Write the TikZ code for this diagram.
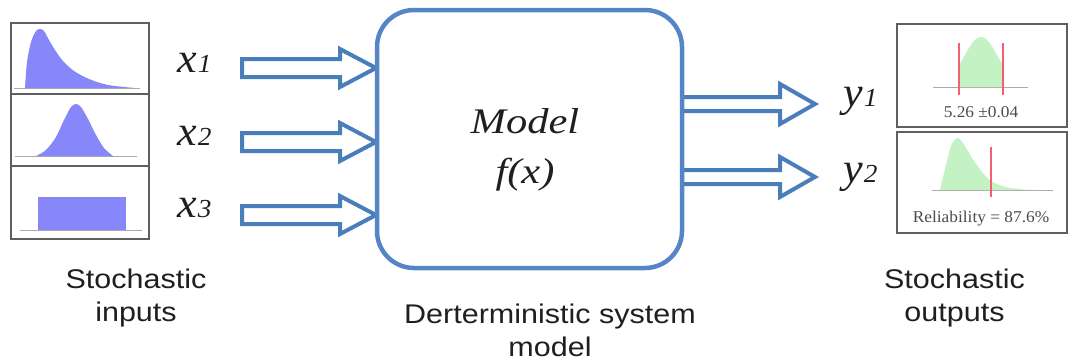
\documentclass[tikz,border=0pt]{standalone}
\usepackage{fontspec}
\newfontfamily\arialfont{Liberation Sans}
\newfontfamily\timesfont{Liberation Serif}
\definecolor{arrowblue}{RGB}{74,126,187}
\definecolor{boxblue}{RGB}{85,133,197}
\definecolor{panelgray}{RGB}{95,95,95}
\definecolor{distpurple}{RGB}{135,135,250}
\definecolor{distgreen}{RGB}{196,242,196}
\definecolor{distred}{RGB}{240,96,110}
\definecolor{basegray}{RGB}{170,170,170}
\newcommand{\harrow}[6]{% L H T c s h
  \draw[hollowarrow] (#1,#4-#5) -- (#2,#4-#5) -- (#2,#4-#6) -- (#3,#4) -- (#2,#4+#6) -- (#2,#4+#5) -- (#1,#4+#5) -- cycle;}
\newcommand{\varlab}[2]{{\timesfont\fontsize{42}{42}\selectfont\itshape #1}\kern1pt{\timesfont\fontsize{26}{26}\selectfont\itshape #2}}
\tikzset{
  panel/.style={draw=panelgray, line width=2pt, fill=white},
  hollowarrow/.style={draw=arrowblue, line width=4pt, fill=white, line join=miter},
  modelbox/.style={draw=boxblue, line width=4.5pt, rounded corners=37pt, fill=white, inner sep=0pt},
  varlabel/.style={inner sep=0pt, anchor=base west, xscale=1.05, transform shape, text=black!88},
  caption/.style={inner sep=0pt, align=center, font=\arialfont\fontsize{27}{33}\selectfont, text=black!88, xscale=1.13, transform shape},
  smalltxt/.style={inner sep=0pt, font=\timesfont\fontsize{16.5}{18}\selectfont, text=black!70, xscale=1.05, transform shape},
  baseline/.style={draw=basegray, line width=1pt},
  redline/.style={draw=distred, line width=2pt}
}
\begin{document}
\begin{tikzpicture}[x=1pt,y=-1pt]
\useasboundingbox (0,0) rectangle (1069,360);
% ---------- left input panels ----------
\draw[panel] (11,23) rectangle (149,94);
\draw[panel] (11,94) rectangle (149,166);
\draw[panel] (11,166) rectangle (149,239);
\draw[baseline] (14,88) -- (140,88);
\fill[distpurple] plot[smooth] coordinates {(25,88) (27,62) (31,42) (36,31) (40,29) (44,31) (49,40) (55,50) (63,61) (74,71) (89,79) (108,85) (135,88)} -- cycle;
\draw[baseline] (15,156) -- (137,156);
\fill[distpurple] plot[smooth] coordinates {(36,156) (46,150) (56,137) (64,120) (71,107) (76,104) (81,107) (88,119) (96,135) (104,148) (113,156)} -- cycle;
\draw[baseline] (20,230) -- (142,230);
\fill[distpurple] (38,197) rectangle (126,230);
% ---------- input labels ----------
\node[varlabel] (x1) at (177,72) {\varlab{x}{1}};
\node[varlabel] (x2) at (177,145) {\varlab{x}{2}};
\node[varlabel] (x3) at (177,217) {\varlab{x}{3}};
% ---------- input arrows ----------
\harrow{242}{340}{376}{68}{9}{19}
\harrow{242}{340}{376}{142}{9}{19}
\harrow{242}{340}{376}{215}{9}{19}
% ---------- output arrows ----------
\harrow{680}{780}{815}{104}{7}{20}
\harrow{680}{780}{815}{177}{7}{20}
% ---------- model box ----------
\node[modelbox, minimum width=305pt, minimum height=258pt] (model) at (529.5,139) {};
\node[inner sep=0pt, align=center, font=\timesfont\fontsize{36}{50}\selectfont\itshape, text=black!88, xscale=1.18, transform shape] (mtext) at (525,150) {Model\\f(x)};
% ---------- output labels ----------
\node[varlabel] (y1) at (843,106) {\varlab{y}{1}};
\node[varlabel] (y2) at (843,182) {\varlab{y}{2}};
% ---------- output panels ----------
\draw[panel] (897,24) rectangle (1067,127);
\draw[panel] (897,132) rectangle (1067,233);
\draw[baseline] (933,87) -- (1028,87);
\fill[distgreen] plot[domain=959:1003, samples=40] (\x, {87-50*exp(-((\x-981)/17)^2/2)}) -- (1003,87) -- (959,87) -- cycle;
\draw[redline] (959,43) -- (959,95);
\draw[redline] (1003,43) -- (1003,95);
\node[smalltxt, anchor=base] (out1) at (981,117) {5.26 ±0.04};
\draw[baseline] (932,190) -- (1053,190);
\fill[distgreen] plot[smooth] coordinates {(940,190) (946,165) (951,146) (957,138) (963,143) (972,158) (982,172) (991,181) (1005,187) (1025,189.5) (1045,190)} -- cycle;
\draw[redline] (991,147) -- (991,197);
\node[smalltxt, anchor=base] (out2) at (981,222) {Reliability = 87.6\%};
% ---------- captions ----------
\node[caption] (capin) at (136,298.5) {Stochastic\\inputs};
\node[caption] (capmodel) at (550,330) {Derterministic system\\model};
\node[caption] (capout) at (954.5,298.5) {Stochastic\\outputs};
\end{tikzpicture}
\end{document}
